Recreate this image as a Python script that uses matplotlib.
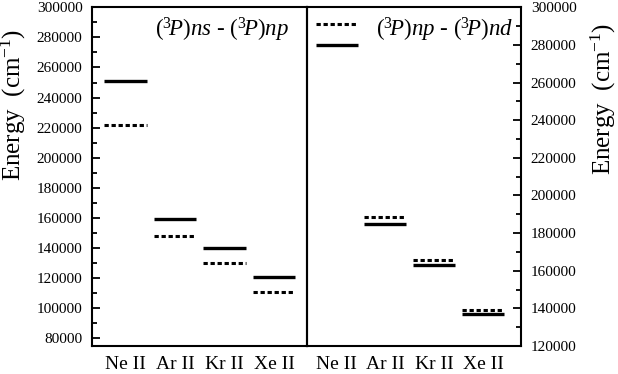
import matplotlib
matplotlib.use('Agg')
import matplotlib.pyplot as plt
from matplotlib.ticker import MultipleLocator

plt.rcParams['font.family'] = ['Liberation Serif', 'DejaVu Serif']
plt.rcParams['mathtext.fontset'] = 'custom'
plt.rcParams['mathtext.rm'] = 'Liberation Serif'
plt.rcParams['mathtext.it'] = 'Liberation Serif:italic'

# data
ions = ['Ne II', 'Ar II', 'Kr II', 'Xe II']
ns_np_solid = [251200, 159300, 140300, 120800]
ns_np_dotted = [221800, 148200, 129900, 110800]
np_nd_dotted = [291100, 188500, 165600, 139200]
np_nd_solid = [280000, 184900, 162900, 137200]

fig = plt.figure(figsize=(6.18, 3.74), dpi=100)
ax1 = fig.add_axes([0.1494, 0.075, 0.3469, 0.9055])
ax2 = fig.add_axes([0.4963, 0.075, 0.3468, 0.9055])

pos = [1, 2, 3, 4]
hw = 0.43

def draw(ax, solid, dotted):
    for p, s, d in zip(pos, solid, dotted):
        ax.hlines(s, p - hw, p + hw, colors='black', linewidth=2.4)
        ax.hlines(d, p - hw, p + hw, colors='black', linewidth=2.2,
                  linestyles=(0, (1.4, 0.9)))

draw(ax1, ns_np_solid, ns_np_dotted)
draw(ax2, np_nd_solid, np_nd_dotted)

ax1.set_xlim(0.33, 4.66)
ax1.set_ylim(75000, 300000)
ax2.set_xlim(0.385, 4.78)
ax2.set_ylim(120000, 300000)

for ax in (ax1, ax2):
    ax.set_xticks(pos)
    ax.set_xticklabels(ions, fontsize=14)
    ax.tick_params(axis='x', length=0, pad=7)
    ax.yaxis.set_major_locator(MultipleLocator(20000))
    ax.yaxis.set_minor_locator(MultipleLocator(10000))
    ax.tick_params(axis='y', which='both', direction='in', labelsize=11, width=1.3)
    ax.tick_params(axis='y', which='major', length=6, pad=7)
    ax.tick_params(axis='y', which='minor', length=3.5)
    for sp in ax.spines.values():
        sp.set_linewidth(1.5)

ax2.yaxis.tick_right()
ax2.yaxis.set_label_position('right')
ax2.patch.set_visible(False)

# axis titles sit above the axes' middle in the reference
lab1 = ax1.set_ylabel(r'Energy  (cm$^{-1}$)', fontsize=18)
lab2 = ax2.set_ylabel(r'Energy  (cm$^{-1}$)', fontsize=18)
for lab in (lab1, lab2):
    lab.set_verticalalignment('center')
ax1.yaxis.set_label_coords(0.022, 0.719, transform=fig.transFigure)
ax2.yaxis.set_label_coords(0.977, 0.735, transform=fig.transFigure)

ax1.text(0.605, 0.933, r'$(^3\!P)ns$ - $(^3\!P)np$', transform=ax1.transAxes,
         fontsize=16.5, ha='center', va='center')
ax2.text(0.645, 0.933, r'$(^3\!P)np$ - $(^3\!P)nd$', transform=ax2.transAxes,
         fontsize=16.5, ha='center', va='center')

fig.savefig('out.png', dpi=100)
